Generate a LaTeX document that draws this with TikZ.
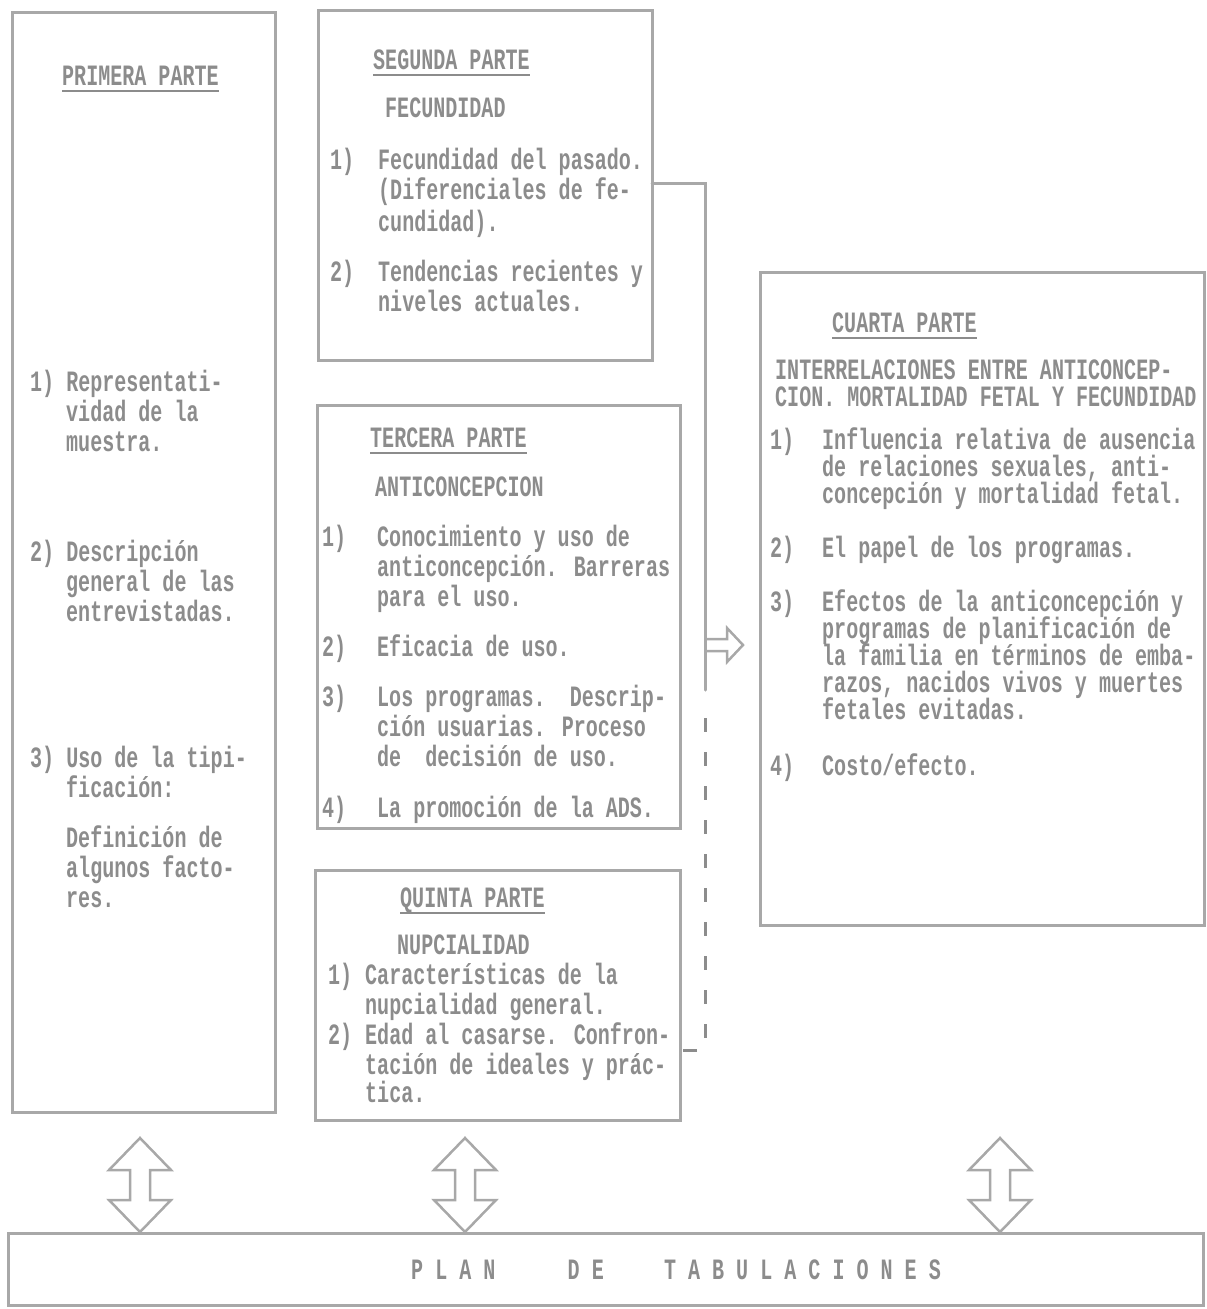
\documentclass[tikz,border=0pt]{standalone}
\usepackage{fontspec}
\setmainfont[FakeStretch=0.68]{Liberation Mono}
\definecolor{inkgray}{RGB}{140,140,140}
\definecolor{linegray}{RGB}{168,168,168}
\tikzset{
  boxframe/.style={draw=linegray, line width=3pt, inner sep=0pt, outer sep=0pt, anchor=north west},
  txt/.style={anchor=base west, inner sep=0pt, text=inkgray, font=\fontsize{29.5}{30}\selectfont\bfseries},
  underl/.style={draw=inkgray, line width=2pt},
  conn/.style={draw=linegray, line width=3pt},
  dashconn/.style={draw=inkgray, line width=3pt, dash pattern=on 14pt off 20pt},
  arrowline/.style={draw=linegray, line width=2.5pt, line join=miter},
  dblarrow/.pic={\draw[arrowline] (0,-47) -- (31,-15) -- (10,-15) -- (10,15) -- (31,15) -- (0,47)
      -- (-31,15) -- (-10,15) -- (-10,-15) -- (-31,-15) -- cycle;}
}
\newcommand\tline[4]{\node[txt] (#1) at (#2,#3) {#4};}
\newcommand\headrule[1]{\draw[underl] ([yshift=-6pt]#1.base west) -- ([yshift=-6pt]#1.base east);}
\begin{document}
\begin{tikzpicture}[x=1pt,y=-1pt]
\useasboundingbox (0,0) rectangle (1207,1309);
% boxes
\node[boxframe, minimum width=263pt, minimum height=1100pt] (prim) at (12,12) {};
\node[boxframe, minimum width=334pt, minimum height=350pt] (segu) at (318,10) {};
\node[boxframe, minimum width=363pt, minimum height=423pt] (terc) at (317,405) {};
\node[boxframe, minimum width=365pt, minimum height=250pt] (quin) at (315,870) {};
\node[boxframe, minimum width=444pt, minimum height=653pt] (cuar) at (760,272) {};
\node[boxframe, minimum width=1195pt, minimum height=72pt] (plan) at (8,1233) {};
% Primera parte
\tline{h1}{62}{85}{PRIMERA PARTE}\headrule{h1}
\tline{p1a}{30}{391}{1) Representati-}
\tline{p1b}{66}{421}{vidad de la}
\tline{p1c}{66}{451}{muestra.}
\tline{p2a}{30}{561}{2) Descripción}
\tline{p2b}{66}{591}{general de las}
\tline{p2c}{66}{621}{entrevistadas.}
\tline{p3a}{30}{767}{3) Uso de la tipi-}
\tline{p3b}{66}{797}{ficación:}
\tline{p3c}{66}{847}{Definición de}
\tline{p3d}{66}{877}{algunos facto-}
\tline{p3e}{66}{907}{res.}
% Segunda parte
\tline{h2}{373}{69}{SEGUNDA PARTE}\headrule{h2}
\tline{s0}{385}{117}{FECUNDIDAD}
\tline{s1n}{330}{169}{1)}
\tline{s1a}{378}{169}{Fecundidad del pasado.}
\tline{s1b}{378}{199}{(Diferenciales de fe-}
\tline{s1c}{378}{231}{cundidad).}
\tline{s2n}{330}{281}{2)}
\tline{s2a}{378}{281}{Tendencias recientes y}
\tline{s2b}{378}{311}{niveles actuales.}
% Tercera parte
\tline{h3}{370}{447}{TERCERA PARTE}\headrule{h3}
\tline{t0}{375}{496}{ANTICONCEPCION}
\tline{t1n}{322}{546}{1)}
\tline{t1a}{377}{546}{Conocimiento y uso de}
\tline{t1b}{377}{576}{anticoncepción. Barreras}
\tline{t1c}{377}{606}{para el uso.}
\tline{t2n}{322}{656}{2)}
\tline{t2a}{377}{656}{Eficacia de uso.}
\tline{t3n}{322}{706}{3)}
\tline{t3a}{377}{706}{Los programas.~~Descrip-}
\tline{t3b}{377}{736}{ción usuarias. Proceso}
\tline{t3c}{377}{766}{de~~decisión de uso.}
\tline{t4n}{322}{817}{4)}
\tline{t4a}{377}{817}{La promoción de la ADS.}
% Quinta parte
\tline{h5}{400}{907}{QUINTA PARTE}\headrule{h5}
\tline{q0}{397}{954}{NUPCIALIDAD}
\tline{q1n}{328}{984}{1)}
\tline{q1a}{365}{984}{Características de la}
\tline{q1b}{365}{1014}{nupcialidad general.}
\tline{q2n}{328}{1044}{2)}
\tline{q2a}{365}{1044}{Edad al casarse. Confron-}
\tline{q2b}{365}{1074}{tación de ideales y prác-}
\tline{q2c}{365}{1102}{tica.}
% Cuarta parte
\tline{h4}{832}{332}{CUARTA PARTE}\headrule{h4}
\tline{c0a}{775}{379}{INTERRELACIONES ENTRE ANTICONCEP-}
\tline{c0b}{775}{406}{CION. MORTALIDAD FETAL Y FECUNDIDAD}
\tline{c1n}{770}{449}{1)}
\tline{c1a}{822}{449}{Influencia relativa de ausencia}
\tline{c1b}{822}{476}{de relaciones sexuales, anti-}
\tline{c1c}{822}{503}{concepción y mortalidad fetal.}
\tline{c2n}{770}{557}{2)}
\tline{c2a}{822}{557}{El papel de los programas.}
\tline{c3n}{770}{611}{3)}
\tline{c3a}{822}{611}{Efectos de la anticoncepción y}
\tline{c3b}{822}{638}{programas de planificación de}
\tline{c3c}{822}{665}{la familia en términos de emba-}
\tline{c3d}{822}{692}{razos, nacidos vivos y muertes}
\tline{c3e}{822}{719}{fetales evitadas.}
\tline{c4n}{770}{775}{4)}
\tline{c4a}{822}{775}{Costo/efecto.}
% Plan
\tline{pl}{411}{1279}{P~L~A~N~~~~~~D~E~~~~~T~A~B~U~L~A~C~I~O~N~E~S}
% bracket connector
\coordinate (k1) at (705,183);
\coordinate (k2) at (705,690);
\coordinate (k3) at (705,718);
\coordinate (k4) at (705,1050);
\draw[conn, line cap=round] (k1 -| segu.east) -- (k1) -- (k2);
\draw[dashconn] (k3) -- (k4) -- (k4 -| quin.east);
% arrow to Cuarta
\draw[arrowline] (705,639) -- (727,639) -- (727,628) -- (743,645) -- (727,662) -- (727,651) -- (705,651);
% double arrows to plan
\coordinate (a1) at (140,1185);
\coordinate (a2) at (465,1185);
\coordinate (a3) at (1000,1185);
\pic at (a1) {dblarrow};
\pic at (a2) {dblarrow};
\pic at (a3) {dblarrow};
\end{tikzpicture}
\end{document}
